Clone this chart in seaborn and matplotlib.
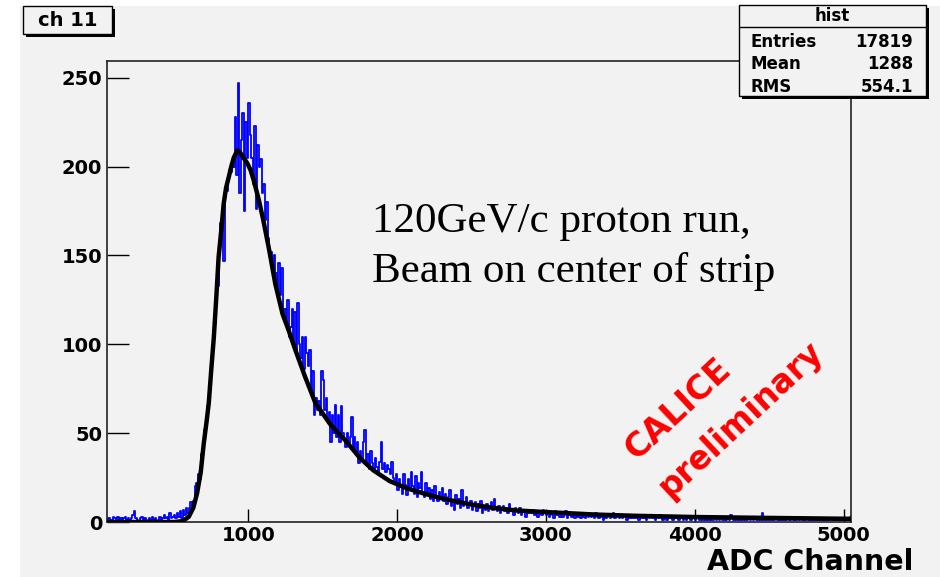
import numpy as np
import pandas as pd
import matplotlib
matplotlib.use("Agg")
import matplotlib.pyplot as plt
from matplotlib.patches import Rectangle
from matplotlib.lines import Line2D
from matplotlib.ticker import MultipleLocator
import seaborn as sns

W, H = 940, 577

# ---------------- data ----------------
bin_edges = list(range(50, 5051, 10))
counts = (
    [1, 2, 0, 1, 3]
    + [2, 1, 3, 0, 2, 1, 2, 3, 1, 2]
    + [1, 2, 4, 6, 2, 1, 0, 2, 3, 1]
    + [2, 1, 0, 2, 1, 3, 1, 2, 0, 1]
    + [3, 1, 2, 4, 2, 3, 1, 5, 2, 3]
    + [4, 2, 5, 3, 6, 2, 7, 4, 8, 5]
    + [8, 11, 9, 12, 20, 22, 27, 24, 38, 41]
    + [52, 53, 65, 70, 78, 90, 100, 112, 125, 133]
    + [150, 168, 176, 147, 183, 186, 192, 198, 197, 203]
    + [200, 228, 195, 247, 185, 215, 230, 175, 225, 205]
    + [236, 218, 205, 190, 223, 176, 212, 200, 204, 185]
    + [190, 170, 180, 160, 150, 152, 142, 150, 140, 130]
    + [146, 128, 143, 115, 120, 112, 125, 104, 110, 120]
    + [100, 118, 97, 123, 100, 92, 104, 86, 104, 95]
    + [88, 97, 72, 85, 60, 70, 63, 68, 60, 85]
    + [80, 63, 70, 58, 62, 45, 60, 50, 66, 48]
    + [60, 45, 65, 50, 47, 42, 50, 44, 48, 59]
    + [42, 48, 38, 45, 33, 40, 36, 45, 52, 34]
    + [38, 30, 40, 33, 29, 36, 31, 27, 34, 45]
    + [30, 33, 28, 32, 30, 27, 34, 25, 22, 27]
    + [18, 24, 20, 16, 27, 21, 15, 24, 18, 28]
    + [20, 16, 26, 14, 22, 19, 28, 17, 14, 22]
    + [15, 19, 13, 18, 12, 20, 14, 12, 17, 13]
    + [19, 12, 16, 10, 14, 18, 9, 12, 7, 15]
    + [10, 13, 8, 18, 9, 11, 14, 8, 10, 12]
    + [7, 9, 11, 6, 10, 8, 12, 5, 9, 7]
    + [10, 6, 8, 11, 7, 13, 8, 6, 9, 5]
    + [7, 9, 6, 8, 5, 10, 6, 7, 4, 8]
    + [6, 5, 8, 4, 7, 6, 3, 7, 5, 6]
    + [5, 7, 4, 6, 3, 5, 6, 4, 7, 5]
    + [4, 6, 3, 5, 4, 2, 6, 4, 5, 3]
    + [5, 3, 4, 6, 2, 4, 5, 3, 4, 2]
    + [4, 3, 5, 2, 4, 3, 2, 5, 3, 4]
    + [3, 4, 2, 5, 3, 2, 4, 3, 1, 4]
    + [2, 3, 4, 2, 3, 5, 2, 3, 4, 2]
    + [3, 2, 4, 3, 1, 3, 2, 4, 2, 3]
    + [2, 3, 1, 4, 2, 3, 2, 1, 3, 2]
    + [3, 2, 2, 1, 3, 2, 4, 2, 1, 2]
    + [2, 1, 3, 2, 2, 1, 3, 2, 2, 1]
    + [2, 3, 1, 2, 1, 2, 3, 1, 2, 2]
    + [1, 2, 2, 1, 3, 1, 2, 1, 2, 1]
    + [2, 1, 1, 3, 1, 2, 1, 2, 1, 1]
    + [3, 1, 2, 1, 4, 2, 1, 2, 1, 2]
    + [1, 2, 1, 3, 1, 1, 2, 1, 2, 1]
    + [2, 1, 1, 2, 1, 5, 1, 2, 1, 1]
    + [1, 2, 1, 1, 2, 1, 1, 2, 1, 1]
    + [1, 1, 2, 1, 1, 2, 1, 1, 1, 2]
    + [1, 2, 1, 1, 1, 2, 1, 1, 2, 1]
    + [1, 1, 2, 1, 1, 1, 2, 1, 1, 1]
    + [1, 2, 1, 1, 1, 1, 2, 1, 1, 1]
    + [1, 2, 1, 1, 3]
)

fit_x = [50, 500, 560, 600, 630, 655, 680, 700, 720, 734, 750, 768, 785, 800,
         820, 834, 850, 868, 885, 902, 925, 945, 958, 975, 992, 1015, 1037,
         1071, 1100, 1140, 1181, 1230, 1270, 1315, 1380, 1450, 1550, 1651,
         1750, 1841, 1950, 2065, 2180, 2290, 2400, 2513, 2660, 2800, 3000,
         3330, 3600, 4000, 4500, 5050]
fit_y = [0, 0, 0.5, 3, 8, 16, 28, 44, 57, 67, 85, 104, 127, 149,
         166, 179, 188, 194, 200, 205, 209, 208, 206, 204, 202, 198, 192,
         181, 170, 153, 134, 117, 108, 97, 82, 67, 55, 46,
         36, 29, 23, 19, 16, 13.5, 11.5, 9.6, 7.8, 6.5, 5.6,
         4.2, 3.5, 2.8, 2.3, 1.8]

title_text = "ch 11"
stats_title = "hist"
stats_labels = ["Entries", "Mean", "RMS"]
stats_values = ["17819", "1288", "554.1"]
x_label = "ADC Channel"
annot_lines = ["120GeV/c proton run,", "Beam on center of strip"]
watermark = ["CALICE", "preliminary"]
x_ticks = [1000, 2000, 3000, 4000, 5000]
y_ticks = [0, 50, 100, 150, 200, 250]

# ---------------- style ----------------
sns.set_theme(style="white")
plt.rcParams['font.family'] = ['DejaVu Sans']
plt.rcParams['text.color'] = 'black'
plt.rcParams['xtick.color'] = 'black'
plt.rcParams['ytick.color'] = 'black'
plt.rcParams['xtick.labelcolor'] = 'black'
plt.rcParams['ytick.labelcolor'] = 'black'
plt.rcParams['axes.labelcolor'] = 'black'

BG = '#f2f2f2'
fig = plt.figure(figsize=(W / 100, H / 100), dpi=100, facecolor='white')


def fx(x):
    return x / W


def fy(y):
    return 1 - y / H


# gray pad
fig.patches.append(Rectangle((fx(20), 0), fx(940) - fx(20), fy(6),
                             transform=fig.transFigure, facecolor=BG,
                             edgecolor='none', zorder=-10))

ax = fig.add_axes([fx(107), fy(522), fx(851) - fx(107), fy(61) - fy(522)])
ax.set_facecolor(BG)

hist_df = pd.DataFrame({
    'adc': [(a + b) / 2 for a, b in zip(bin_edges[:-1], bin_edges[1:])],
    'n': counts,
})
sns.histplot(data=hist_df, x='adc', weights='n', bins=bin_edges,
             element='step', fill=False, color='#0000ff', linewidth=1.3, ax=ax)
fit_df = pd.DataFrame({'x': fit_x, 'y': fit_y})
sns.lineplot(data=fit_df, x='x', y='y', color='black', linewidth=3.2, ax=ax,
             zorder=3, estimator=None, sort=True)

ax.set_xlim(50, 5050)
ax.set_ylim(0, 259.4)
ax.set_xlabel('')
ax.set_ylabel('')

ax.set_xticks(x_ticks)
ax.set_yticks(y_ticks)
ax.xaxis.set_minor_locator(MultipleLocator(200))
ax.yaxis.set_minor_locator(MultipleLocator(10))
ax.tick_params(axis='x', which='major', direction='in', length=9.4, width=1,
               color='black', pad=3, labelsize=14, labelcolor='black')
ax.tick_params(axis='x', which='minor', direction='in', length=5, width=1,
               color='black')
ax.tick_params(axis='y', which='major', direction='in', length=15.8, width=1,
               color='black', pad=3.5, labelsize=14, labelcolor='black')
ax.tick_params(axis='y', which='minor', direction='in', length=7.9, width=1,
               color='black')
ax.tick_params(bottom=True, left=True, top=False, right=False)
for lab in ax.get_xticklabels() + ax.get_yticklabels():
    lab.set_fontweight('bold')
for s in ax.spines.values():
    s.set_color('#222222')
    s.set_linewidth(1.2)

# annotations
fig.text(fx(372), fy(232), annot_lines[0], family='Liberation Serif',
         fontsize=31, va='baseline', ha='left', color='black')
fig.text(fx(372), fy(282), annot_lines[1], family='Liberation Serif',
         fontsize=31, va='baseline', ha='left', color='black')

fig.text(fx(678), fy(409), watermark[0], color='#ff0000', fontsize=24,
         fontweight='bold', rotation=43, rotation_mode='anchor',
         ha='center', va='center')
fig.text(fx(741), fy(420), watermark[1], color='#ff0000', fontsize=23.5,
         fontweight='bold', rotation=43, rotation_mode='anchor',
         ha='center', va='center')

fig.text(fx(913), fy(570), x_label, ha='right', va='baseline',
         fontsize=20.5, fontweight='bold', color='black')


def box(x0, y0, x1, y1, z=5):
    # shadow
    fig.patches.append(Rectangle((fx(x0 + 3), fy(y1 + 3)), fx(x1) - fx(x0),
                                 fy(y0) - fy(y1), transform=fig.transFigure,
                                 facecolor='black', edgecolor='none', zorder=z))
    fig.patches.append(Rectangle((fx(x0), fy(y1)), fx(x1) - fx(x0),
                                 fy(y0) - fy(y1), transform=fig.transFigure,
                                 facecolor=BG, edgecolor='black', lw=1,
                                 zorder=z + 0.1))


# title box
box(23, 6, 112, 34)
fig.text(fx(68), fy(21), title_text, ha='center', va='center', fontsize=14,
         fontweight='bold', zorder=6, color='black')

# stats box
box(739, 5, 926, 96)
fig.lines.append(Line2D([fx(739), fx(926)], [fy(27), fy(27)],
                        transform=fig.transFigure, color='black', lw=1,
                        zorder=6))
fig.text(fx(832), fy(16), stats_title, ha='center', va='center', fontsize=12,
         fontweight='bold', zorder=7, color='black')
for yy, lab, val in zip([42, 64, 87], stats_labels, stats_values):
    fig.text(fx(750), fy(yy), lab, ha='left', va='center', fontsize=12,
             fontweight='bold', zorder=7, color='black')
    fig.text(fx(913), fy(yy), val, ha='right', va='center', fontsize=12,
             fontweight='bold', zorder=7, color='black')

fig.savefig('out.png', dpi=100, facecolor='white')
